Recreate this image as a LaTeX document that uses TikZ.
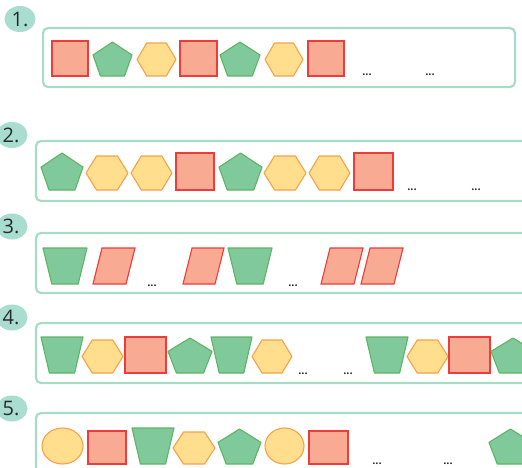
\documentclass[tikz,border=0pt]{standalone}
\usepackage{fontspec}
\setmainfont{Open Sans}
\definecolor{sqfill}{HTML}{F8AA92}
\definecolor{sqdraw}{HTML}{EE3B3B}
\definecolor{grfill}{HTML}{80C99A}
\definecolor{grdraw}{HTML}{5DB565}
\definecolor{yefill}{HTML}{FFDE8E}
\definecolor{yedraw}{HTML}{F7A24B}
\definecolor{boxcol}{HTML}{A9DCC6}
\definecolor{badgecol}{HTML}{A8DDD0}
\definecolor{txtcol}{HTML}{2A2A2A}
\tikzset{
  redshape/.style={fill=sqfill,draw=sqdraw,line width=1.1pt,line join=miter},
  greenshape/.style={fill=grfill,draw=grdraw,line width=1.1pt,line join=round},
  yellowshape/.style={fill=yefill,draw=yedraw,line width=1.1pt,line join=round},
  rowbox/.style={draw=boxcol,line width=2.2pt,rounded corners=5pt},
  badge/.style={fill=badgecol,draw=none},
  badgetext/.style={text=txtcol,font=\fontsize{20}{20}\selectfont,inner sep=0pt},
  dotstext/.style={text=txtcol,font=\bfseries\fontsize{11}{11}\selectfont,inner sep=0pt,anchor=base},
}
% shapes: bbox x0 y0 x1 y1 (pixel coords, y down)
\newcommand{\SqS}[4]{\path[redshape] (#1,#2) rectangle (#3,#4);}
\newcommand{\PentS}[4]{\path[greenshape] ({(#1+#3)/2},#2) -- (#3,{#2+0.382*(#4-#2)}) -- ({#3-0.191*(#3-#1)},#4) -- ({#1+0.191*(#3-#1)},#4) -- (#1,{#2+0.382*(#4-#2)}) -- cycle;}
\newcommand{\HexS}[4]{\path[yellowshape] (#1,{(#2+#4)/2}) -- ({#1+0.25*(#3-#1)},#2) -- ({#3-0.25*(#3-#1)},#2) -- (#3,{(#2+#4)/2}) -- ({#3-0.25*(#3-#1)},#4) -- ({#1+0.25*(#3-#1)},#4) -- cycle;}
\newcommand{\TrapS}[4]{\path[greenshape] (#1,#2) -- (#3,#2) -- ({#3-0.2*(#3-#1)},#4) -- ({#1+0.2*(#3-#1)},#4) -- cycle;}
\newcommand{\ParaS}[4]{\path[redshape] ({#1+9},#2) -- (#3,#2) -- ({#3-9},#4) -- (#1,#4) -- cycle;}
\newcommand{\EllS}[4]{\path[yellowshape] ({(#1+#3)/2},{(#2+#4)/2}) ellipse ({(#3-#1)/2} and {(#4-#2)/2});}
\begin{document}
\begin{tikzpicture}[x=1pt,y=-1pt]
\useasboundingbox (0,0) rectangle (522,467);
\fill[white] (0,0) rectangle (522,467);
% badges
\fill[badge] (20,19) ellipse (15.5 and 13);
\node[badgetext] (b1) at (20,19) {1.};
\fill[badge] (12,135) ellipse (15.5 and 13);
\node[badgetext] (b2) at (11,135) {2.};
\fill[badge] (12,226.5) ellipse (15.5 and 13);
\node[badgetext] (b3) at (11,226.5) {3.};
\fill[badge] (12,317.5) ellipse (15.5 and 13);
\node[badgetext] (b4) at (11,317.5) {4.};
\fill[badge] (12,408.5) ellipse (15.5 and 13);
\node[badgetext] (b5) at (11,408.5) {5.};
% boxes
\draw[rowbox] (43,28) rectangle (515,87);
\draw[rowbox] (36,141) rectangle (535,201);
\draw[rowbox] (36,233) rectangle (535,293);
\draw[rowbox] (36,323) rectangle (535,383);
\draw[rowbox] (36,413) rectangle (535,490);
% row 1
\SqS{52}{41}{88}{76}
\PentS{93}{42}{132}{76}
\HexS{137}{43}{176}{76}
\SqS{180}{41}{217}{76}
\PentS{220}{42}{260}{76}
\HexS{265}{43}{303}{76}
\SqS{308}{41}{344}{76}
\node[dotstext] (d1a) at (367,75) {...};
\node[dotstext] (d1b) at (430,75) {...};
% row 2
\PentS{41}{153}{83}{190}
\HexS{86}{156}{128}{190}
\HexS{131}{156}{172}{190}
\SqS{176}{153}{214}{190}
\PentS{219}{153}{262}{190}
\HexS{264}{156}{306}{190}
\HexS{309}{156}{350}{190}
\SqS{354}{153}{393}{190}
\node[dotstext] (d2a) at (412,190) {...};
\node[dotstext] (d2b) at (476,190) {...};
% row 3
\TrapS{43}{248}{87}{284}
\ParaS{93}{248}{135}{284}
\node[dotstext] (d3a) at (152,286) {...};
\ParaS{183}{248}{224}{284}
\TrapS{228}{248}{272}{284}
\node[dotstext] (d3b) at (293,286) {...};
\ParaS{321}{248}{363}{284}
\ParaS{361}{248}{403}{284}
% row 4
\TrapS{41}{337}{83}{373}
\HexS{82}{340}{123}{373}
\SqS{125}{337}{166}{373}
\PentS{168}{338}{212}{373}
\TrapS{211}{337}{252}{373}
\HexS{252}{340}{292}{373}
\node[dotstext] (d4a) at (303,374) {...};
\node[dotstext] (d4b) at (348,374) {...};
\TrapS{366}{337}{408}{373}
\HexS{407}{340}{448}{373}
\SqS{449}{337}{490}{373}
\PentS{491}{338}{535}{373}
% row 5
\EllS{42}{428}{83}{464}
\SqS{88}{431}{126}{464}
\TrapS{132}{428}{174}{464}
\HexS{173}{432}{215}{464}
\PentS{218}{429}{261}{464}
\EllS{265}{428}{304}{464}
\SqS{309}{431}{348}{464}
\node[dotstext] (d5a) at (377,464) {...};
\node[dotstext] (d5b) at (448,464) {...};
\PentS{489}{429}{532}{464}
\end{tikzpicture}
\end{document}
